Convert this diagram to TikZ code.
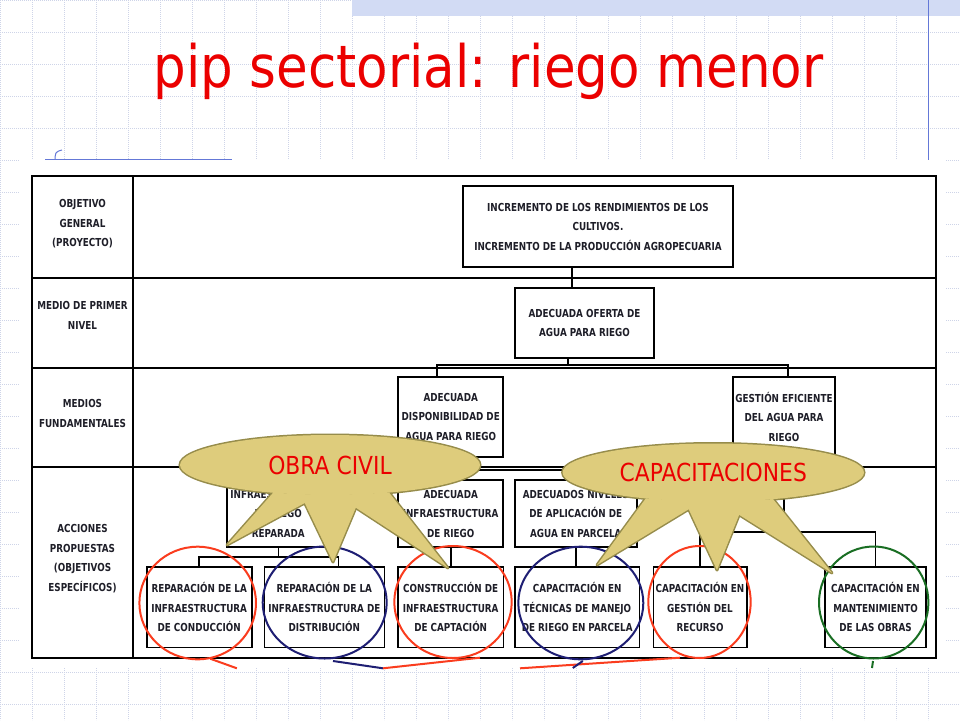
\documentclass[tikz,border=0pt]{standalone}
\usepackage{fontspec}
\usetikzlibrary{shapes.geometric}
\newfontfamily\titlefont[FakeStretch=0.88]{DejaVu Sans}
\newfontfamily\tabfont[FakeStretch=0.80]{DejaVu Sans}
\newcommand\boxfont{\tabfont\bfseries\fontsize{11}{19.5}\selectfont}
\definecolor{titlered}{RGB}{235,0,0}
\definecolor{gridc}{RGB}{206,212,232}
\definecolor{bandblue}{RGB}{210,219,244}
\definecolor{slideblue}{RGB}{100,120,215}
\definecolor{boxtext}{RGB}{30,30,40}
\definecolor{ringred}{RGB}{250,60,30}
\definecolor{ringnavy}{RGB}{30,30,115}
\definecolor{ringgreen}{RGB}{25,110,35}
\definecolor{balfill}{RGB}{222,204,124}
\definecolor{balline}{RGB}{150,140,75}

\begin{document}
\begin{tikzpicture}[x=1pt, y=-1pt,
  main/.style = {draw, line width=1.6pt, fill=white, align=center, inner sep=0pt, text=boxtext, font=\boxfont},
  leaf/.style = {main, minimum height=80.6pt},
  rowname/.style = {align=center, inner sep=0pt, text=boxtext, font=\boxfont},
  link/.style = {line width=1.6pt},
  ring/.style = {ellipse, draw=#1, line width=2pt, inner sep=0pt},
  balloon/.style = {ellipse, draw=balline, fill=balfill, line width=3pt, inner sep=0pt, outer sep=0pt},
  wedge/.style = {draw=balline, fill=balfill, line width=3pt, line join=round},
  baltext/.style = {text=titlered, font=\titlefont\fontsize{24.8}{26}\selectfont, inner sep=0pt},
  heading/.style = {text=titlered, font=\titlefont\fontsize{58.5}{60}\selectfont, anchor=base, inner sep=0pt},
  gridline/.style = {gridc, line width=0.7pt, dash pattern=on 0.7pt off 1.3pt}]
		\useasboundingbox (0,0) rectangle (960,720);
		%Slide background
		\foreach \i in {0,...,30} \draw[gridline] (32*\i,0) -- (32*\i,720);
		\foreach \j in {0,...,22} \draw[gridline] (0,32*\j) -- (960,32*\j);
		\fill[bandblue] (352,0) rectangle (960,16);
		\draw[slideblue, line width=1pt] (928,0) -- (928,160);
		\draw[slideblue, line width=1pt] (45,159) -- (232,159);
		\draw[slideblue, line width=1pt] (55,163) .. controls (55,152) .. (62,150);
		\node[heading] (t) at (488.5,87) {pip sectorial: riego menor};
		
		%Table
		\fill[white] (20,160) rectangle (945,668);
		\draw[link] (32,176) rectangle (936,658);
		\draw[link] (133,176) -- (133,658);
		\draw[link] (32,277.7) -- (936,277.7);
		\draw[link] (32,368) -- (936,368);
		\draw[link] (32,466.7) -- (936,466.7);
		
		%Row names
		\node[rowname] (14) at (82.5,224) {OBJETIVO\\GENERAL\\(PROYECTO)};
		\node[rowname] (15) at (82.5,315.5) {MEDIO DE PRIMER\\NIVEL};
		\node[rowname] (16) at (82.5,413.7) {MEDIOS\\FUNDAMENTALES};
		\node[rowname] (17) at (82.5,558.8) {ACCIONES\\PROPUESTAS\\(OBJETIVOS\\ESPECÍFICOS)};
		
		%Upper boxes
		\node[main, minimum width=270pt, minimum height=81pt] (1) at (598,226.5) {INCREMENTO DE LOS RENDIMIENTOS DE LOS\\CULTIVOS.\\INCREMENTO DE LA PRODUCCIÓN AGROPECUARIA};
		\node[main, minimum width=139pt, minimum height=70pt] (2) at (584.5,323) {ADECUADA OFERTA DE\\AGUA PARA RIEGO};
		\node[main, minimum width=105pt, minimum height=80pt] (3) at (450.7,416.7) {ADECUADA\\DISPONIBILIDAD DE\\AGUA PARA RIEGO};
		\node[main, minimum width=102pt, minimum height=80pt] (4) at (784,416.7) {GESTIÓN EFICIENTE\\DEL AGUA PARA\\RIEGO};
		%Middle boxes
		\node[main, minimum width=103pt, minimum height=67pt] (5) at (278.3,513.5) {INFRAESTRUCTURA\\DE RIEGO\\REPARADA};
		\node[main, minimum width=105pt, minimum height=67pt] (6) [node distance=96.8pt, below of=3] {ADECUADA\\INFRAESTRUCTURA\\DE RIEGO};
		\node[main, minimum width=122pt, minimum height=67pt] (7) at (575.8,513.5) {ADECUADOS NIVELES\\DE APLICACIÓN DE\\AGUA EN PARCELA};
		%Bottom boxes
		\node[leaf, minimum width=105pt] (8) at (199.2,607) {REPARACIÓN DE LA\\INFRAESTRUCTURA\\DE CONDUCCIÓN};
		\node[leaf, minimum width=120pt] (9) at (324.3,607) {REPARACIÓN DE LA\\INFRAESTRUCTURA DE\\DISTRIBUCIÓN};
		\node[leaf, minimum width=105.6pt] (10) [node distance=93.5pt, below of=6] {CONSTRUCCIÓN DE\\INFRAESTRUCTURA\\DE CAPTACIÓN};
		\node[leaf, minimum width=124.3pt] (11) at (577.2,607) {CAPACITACIÓN EN\\TÉCNICAS DE MANEJO\\DE RIEGO EN PARCELA};
		\node[leaf, minimum width=93.4pt] (12) at (700,607) {CAPACITACIÓN EN\\GESTIÓN DEL\\RECURSO};
		\node[leaf, minimum width=101pt] (13) at (875.5,607) {CAPACITACIÓN EN\\MANTENIMIENTO\\DE LAS OBRAS};
		
		%Tree edges
		\coordinate (b1) at (568,365);
		\coordinate (b2) at (450.7,470);
		\coordinate (b3) at (278.3,557);
		\coordinate (b4) at (786,532);
		\draw[link] ([xshift=-26pt]1.south) -- ([xshift=-12.5pt]2.north); %objetivo -> oferta
		\draw[link] ([xshift=-16.5pt]2.south) -- (b1); %oferta -> medios
		\draw[link] ([xshift=-14pt]3.north) |- (b1) -| ([xshift=4pt]4.north);
		\draw[link] (3.south) -- (b2); %disponibilidad -> acciones
		\draw[link] (5.north) |- (b2) -| (7.north);
		\draw[link] (b2) -- (6.north);
		\draw[link] (5.south) -- (b3); %reparada -> 8, 9
		\draw[link] (8.north) |- (b3) -| ([xshift=14pt]9.north);
		\draw[link] (6.south) -- (10.north); %riego -> 10
		\draw[link] (7.south) -- (7.south |- 11.north); %niveles -> 11
		\draw[link] (4.south) -- (4.south |- b4); %gestion -> 12, 13
		\draw[link] (12.north) |- (b4) -| (13.north);
		
		%Rings
		\node[ring=ringred, minimum width=116.6pt, minimum height=112.6pt] (20) at (197.7,603) {};
		\node[ring=ringnavy, minimum width=124pt, minimum height=112pt] (21) at (324.7,602.5) {};
		\node[ring=ringred, minimum width=117.4pt, minimum height=112pt] (22) at (453,602) {};
		\node[ring=ringnavy, minimum width=125pt, minimum height=112.6pt] (23) at (580.8,603) {};
		\node[ring=ringred, minimum width=102.4pt, minimum height=112pt] (24) at (699.5,602) {};
		\node[ring=ringgreen, minimum width=109.4pt, minimum height=112pt] (25) at (873.7,602.5) {};
		\draw[ringred, line width=2pt] (20.south) ++(12.5,-1.6) -- ++(26.7,9.6);
		\draw[ringnavy, line width=2pt] (21.south) ++(8.3,1.5) -- ++(50,7.3);
		\draw[ringred, line width=2pt] (22.south) ++(27,-1.3) -- ++(-97,10.6);
		\draw[ringred, line width=2pt] (24.south) ++(-19.5,-1.3) -- ++(-160,10.6);
		\draw[ringnavy, line width=2pt] (23.south) ++(2,0.7) -- ++(-10,7);
		\draw[ringgreen, line width=2pt] (25.south) ++(-0.7,1.5) -- ++(-1,7);
		
		%Callouts
		\node[balloon, minimum width=300pt, minimum height=60pt] (18) at (330,465) {};
		\node[balloon, minimum width=301.4pt, minimum height=58pt] (19) at (713.3,472.5) {};
		\coordinate (p1) at (227,545);
		\coordinate (p2) at (333,562);
		\coordinate (p3) at (448,568);
		\coordinate (p4) at (597,565);
		\coordinate (p5) at (717,570);
		\coordinate (p6) at (832,573);
		\filldraw[wedge] (18.206) -- (p1) -- (18.251) -- cycle;
		\filldraw[wedge] (18.225) -- (p2) -- (18.317) -- cycle;
		\filldraw[wedge] (18.282) -- (p3) -- (18.335) -- cycle;
		\filldraw[wedge] (19.201) -- (p4) -- (19.248) -- cycle;
		\filldraw[wedge] (19.225) -- (p5) -- (19.318) -- cycle;
		\filldraw[wedge] (19.279) -- (p6) -- (19.336) -- cycle;
		%Cover inner edges
		\fill[balfill] (18.center) ellipse [x radius=150, y radius=30];
		\fill[balfill] (19.center) ellipse [x radius=150.7, y radius=29];
		\fill[balfill] (18.206) -- (p1) -- (18.251) -- cycle;
		\fill[balfill] (18.225) -- (p2) -- (18.317) -- cycle;
		\fill[balfill] (18.282) -- (p3) -- (18.335) -- cycle;
		\fill[balfill] (19.201) -- (p4) -- (19.248) -- cycle;
		\fill[balfill] (19.225) -- (p5) -- (19.318) -- cycle;
		\fill[balfill] (19.279) -- (p6) -- (19.336) -- cycle;
		\node[baltext] (26) at (18) {OBRA CIVIL};
		\node[baltext] (27) at (19) {CAPACITACIONES};
	\end{tikzpicture}
\end{document}
